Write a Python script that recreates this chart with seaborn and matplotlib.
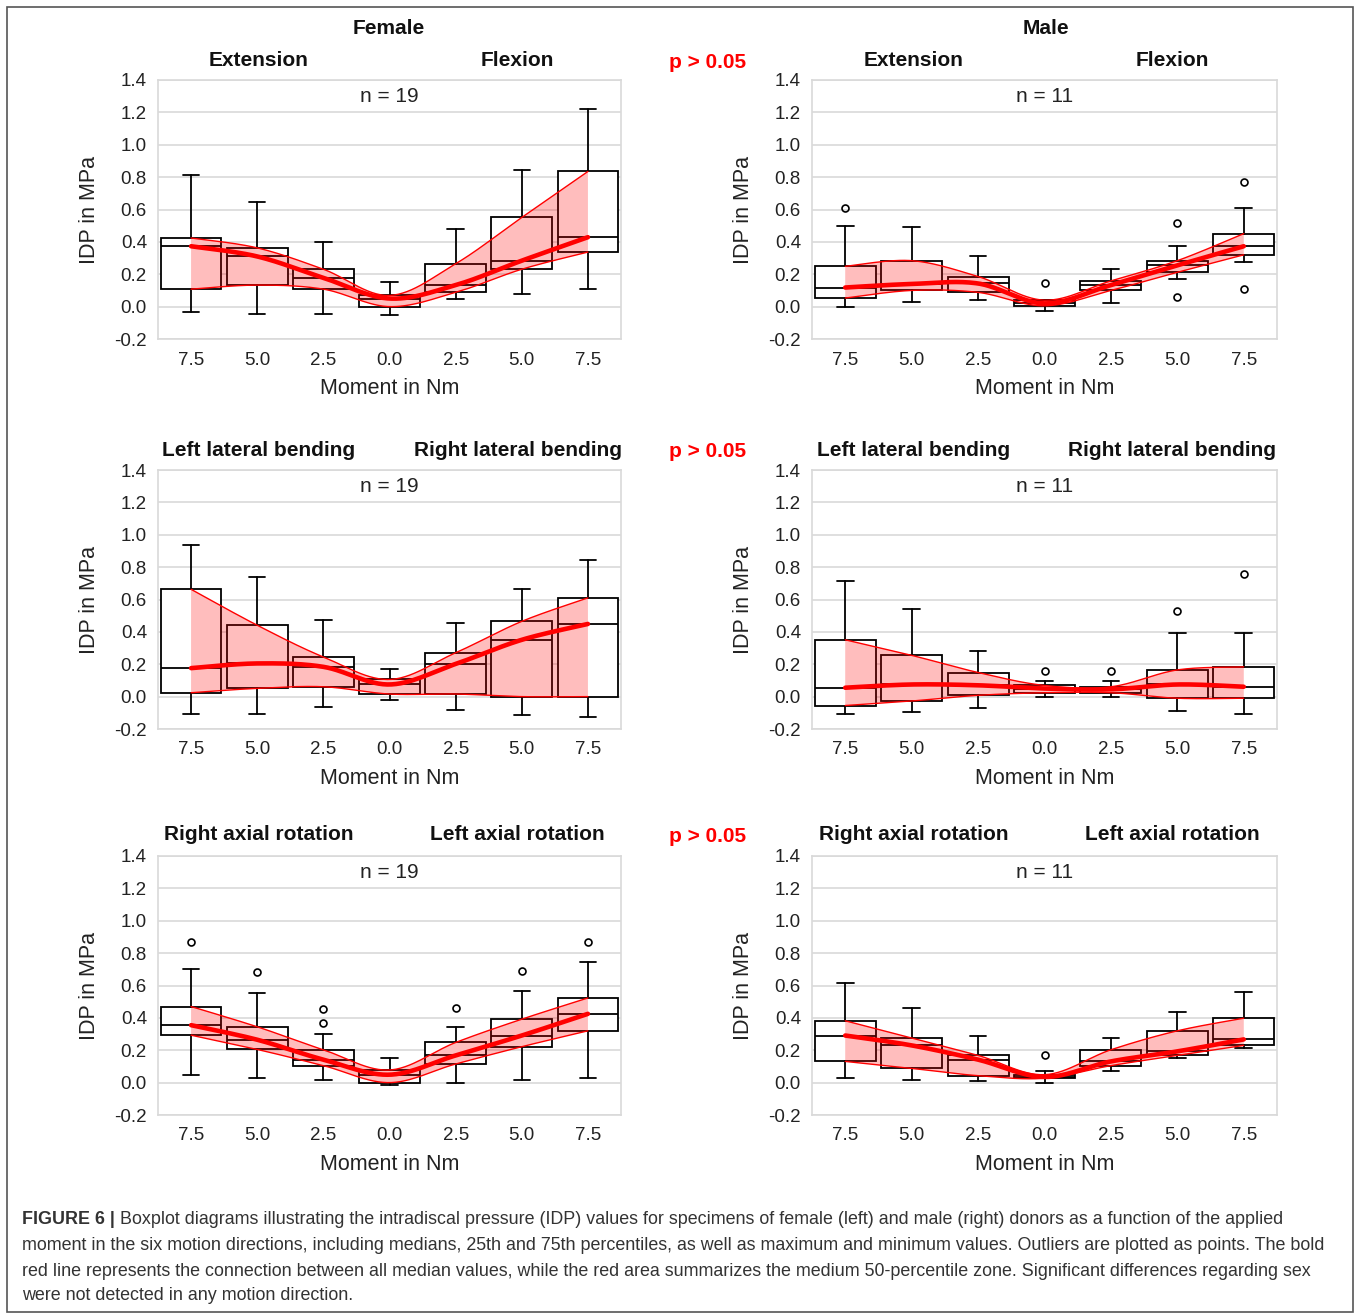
import numpy as np
import matplotlib
matplotlib.use("Agg")
import matplotlib.pyplot as plt
import seaborn as sns

# moment labels (extension side -> 0 -> flexion side)
moments = ["7.5", "5.0", "2.5", "0.0", "2.5", "5.0", "7.5"]

# Female, extension / flexion
f1_lo = [-0.035, -0.043, -0.043, -0.053, 0.045, 0.08, 0.108]
f1_q1 = [0.108, 0.133, 0.108, 0.0, 0.088, 0.231, 0.337]
f1_med = [0.373, 0.31, 0.178, 0.05, 0.133, 0.284, 0.429]
f1_q3 = [0.424, 0.363, 0.231, 0.069, 0.265, 0.551, 0.835]
f1_hi = [0.816, 0.647, 0.398, 0.151, 0.48, 0.843, 1.222]
f1_out = [[], [], [], [], [], [], []]

# Male, extension / flexion
m1_lo = [0.0, 0.027, 0.039, -0.024, 0.02, 0.169, 0.276]
m1_q1 = [0.053, 0.1, 0.088, 0.005, 0.1, 0.212, 0.32]
m1_med = [0.118, 0.14, 0.143, 0.02, 0.133, 0.255, 0.373]
m1_q3 = [0.249, 0.284, 0.186, 0.04, 0.159, 0.284, 0.451]
m1_hi = [0.498, 0.49, 0.31, 0.04, 0.231, 0.373, 0.612]
m1_out = [[0.612], [], [], [0.143], [], [0.514, 0.061], [0.769, 0.108]]

# Female, lateral bending
f2_lo = [-0.108, -0.108, -0.063, -0.02, -0.08, -0.116, -0.124]
f2_q1 = [0.024, 0.051, 0.061, 0.016, 0.016, 0.0, 0.0]
f2_med = [0.176, 0.205, 0.184, 0.075, 0.202, 0.351, 0.449]
f2_q3 = [0.663, 0.441, 0.245, 0.106, 0.271, 0.465, 0.61]
f2_hi = [0.935, 0.741, 0.473, 0.173, 0.457, 0.663, 0.847]
f2_out = [[], [], [], [], [], [], []]

# Male, lateral bending
m2_lo = [-0.108, -0.098, -0.071, 0.0, 0.0, -0.09, -0.108]
m2_q1 = [-0.055, -0.027, 0.008, 0.024, 0.024, -0.01, -0.01]
m2_med = [0.055, 0.075, 0.07, 0.05, 0.045, 0.075, 0.061]
m2_q3 = [0.351, 0.255, 0.149, 0.069, 0.061, 0.165, 0.184]
m2_hi = [0.714, 0.539, 0.28, 0.096, 0.096, 0.396, 0.396]
m2_out = [[], [], [], [0.159], [0.159], [0.529], [0.759]]

# Female, axial rotation
f3_lo = [0.047, 0.027, 0.016, -0.016, 0.0, 0.016, 0.027]
f3_q1 = [0.293, 0.205, 0.105, 0.0, 0.115, 0.222, 0.32]
f3_med = [0.355, 0.265, 0.142, 0.049, 0.168, 0.291, 0.425]
f3_q3 = [0.47, 0.345, 0.203, 0.078, 0.248, 0.392, 0.523]
f3_hi = [0.704, 0.552, 0.3, 0.152, 0.345, 0.568, 0.747]
f3_out = [[0.87], [0.683], [0.453, 0.371], [], [0.462], [0.691], [0.87]]

# Male, axial rotation
m3_lo = [0.027, 0.016, 0.008, 0.0, 0.07, 0.15, 0.213]
m3_q1 = [0.131, 0.088, 0.043, 0.027, 0.105, 0.168, 0.23]
m3_med = [0.291, 0.23, 0.142, 0.035, 0.131, 0.193, 0.267]
m3_q3 = [0.382, 0.275, 0.168, 0.049, 0.203, 0.32, 0.398]
m3_hi = [0.615, 0.462, 0.291, 0.07, 0.275, 0.435, 0.562]
m3_out = [[], [], [], [0.168], [], [], []]

row_titles = [("Extension", "Flexion"),
              ("Left lateral bending", "Right lateral bending"),
              ("Right axial rotation", "Left axial rotation")]

sns.set_theme(style="white")
plt.rcParams["font.family"] = ["Liberation Sans", "DejaVu Sans"]
plt.rcParams["axes.unicode_minus"] = False

W, H = 1360, 1315
fig = plt.figure(figsize=(W / 100, H / 100), dpi=100)


def fx(px):
    return px / W


def fy(py):
    return 1 - py / H


def smooth(xs, ys, k=30):
    # Catmull-Rom curve through the points, like a spreadsheet "smoothed line"
    pts = np.column_stack([xs, ys]).astype(float)
    p = np.vstack([pts[0], pts, pts[-1]])
    segs = []
    t = np.linspace(0, 1, k, endpoint=False)[:, None]
    for i in range(1, len(p) - 2):
        p0, p1, p2, p3 = p[i - 1], p[i], p[i + 1], p[i + 2]
        seg = 0.5 * (2 * p1 + (-p0 + p2) * t
                     + (2 * p0 - 5 * p1 + 4 * p2 - p3) * t ** 2
                     + (-p0 + 3 * p1 - 3 * p2 + p3) * t ** 3)
        segs.append(seg)
    segs.append(pts[-1][None])
    return np.vstack(segs)


def panel(ax, lo, q1, med, q3, hi, outl, n):
    pos = np.arange(len(moments))
    stats = []
    for i in range(len(moments)):
        stats.append(dict(whislo=lo[i], q1=q1[i], med=med[i], q3=q3[i],
                          whishi=hi[i], fliers=outl[i]))
    ax.bxp(stats, positions=pos, widths=0.92, patch_artist=True,
           manage_ticks=False, capwidths=0.25,
           boxprops=dict(facecolor="white", edgecolor="black", linewidth=1.3),
           medianprops=dict(color="black", linewidth=1.3),
           whiskerprops=dict(color="black", linewidth=1.3),
           capprops=dict(color="black", linewidth=1.3),
           flierprops=dict(marker="o", markerfacecolor="none",
                           markeredgecolor="black", markersize=5,
                           markeredgewidth=1.2),
           zorder=2)

    up = smooth(pos, q3)
    dn = smooth(pos, q1)
    poly = np.vstack([up, dn[::-1]])
    ax.fill(poly[:, 0], poly[:, 1], color="#ff0000", alpha=0.26,
            lw=0, zorder=3)
    ax.plot(up[:, 0], up[:, 1], color="#ff0000", lw=1.0, zorder=4)
    ax.plot(dn[:, 0], dn[:, 1], color="#ff0000", lw=1.0, zorder=4)
    md = smooth(pos, med)
    sns.lineplot(x=md[:, 0], y=md[:, 1], ax=ax, color="#ff0000", lw=3.3,
                 sort=False, estimator=None, zorder=5)

    ax.set_xlim(-0.5, len(moments) - 0.5)
    ax.set_ylim(-0.2, 1.4)
    yt = np.round(np.arange(-0.2, 1.41, 0.2), 1)
    ax.set_yticks(yt)
    ax.set_yticklabels([f"{v:.1f}" for v in yt])
    ax.set_xticks(pos)
    ax.set_xticklabels(moments)
    ax.tick_params(axis="both", length=0, labelsize=13.5, colors="#222222")
    ax.tick_params(axis="x", pad=9)
    ax.tick_params(axis="y", pad=8)
    ax.grid(axis="y", color="#d9d9d9", lw=1.2)
    ax.grid(axis="x", visible=False)
    ax.set_axisbelow(True)
    for s in ax.spines.values():
        s.set_color("#d9d9d9")
        s.set_linewidth(1.2)
    ax.set_xlabel("Moment in Nm", fontsize=15.5, color="#222222", labelpad=7)
    ax.set_ylabel("IDP in MPa", fontsize=15.5, color="#222222", labelpad=10)
    ax.text(0.5, 0.935, f"n = {n}", transform=ax.transAxes, ha="center",
            va="center", fontsize=15, color="#222222")


rows = [(80, 339), (470, 729), (856, 1115)]
lefts = [(158, 621), (812, 1277)]
data_f = [(f1_lo, f1_q1, f1_med, f1_q3, f1_hi, f1_out),
          (f2_lo, f2_q1, f2_med, f2_q3, f2_hi, f2_out),
          (f3_lo, f3_q1, f3_med, f3_q3, f3_hi, f3_out)]
data_m = [(m1_lo, m1_q1, m1_med, m1_q3, m1_hi, m1_out),
          (m2_lo, m2_q1, m2_med, m2_q3, m2_hi, m2_out),
          (m3_lo, m3_q1, m3_med, m3_q3, m3_hi, m3_out)]
head_y = [60, 450, 835]

for r, (top, bot) in enumerate(rows):
    for c, (l, rgt) in enumerate(lefts):
        ax = fig.add_axes([fx(l), fy(bot), (rgt - l) / W, (bot - top) / H])
        d = data_f[r] if c == 0 else data_m[r]
        panel(ax, *d, 19 if c == 0 else 11)
        mid = (l + rgt) / 2
        fig.text(fx(mid - 131), fy(head_y[r]), row_titles[r][0], ha="center",
                 va="center", fontsize=15, fontweight="bold", color="#111111")
        fig.text(fx(mid + 128), fy(head_y[r]), row_titles[r][1], ha="center",
                 va="center", fontsize=15, fontweight="bold", color="#111111")
    fig.text(fx(708), fy(head_y[r] + 2), "p > 0.05", ha="center", va="center",
             fontsize=15, fontweight="bold", color="#ff0000")

fig.text(fx(389), fy(29), "Female", ha="center", va="center", fontsize=15,
         fontweight="bold", color="#111111")
fig.text(fx(1046), fy(29), "Male", ha="center", va="center", fontsize=15,
         fontweight="bold", color="#111111")

# caption
cap_lines = [
    "Boxplot diagrams illustrating the intradiscal pressure (IDP) values for specimens of female (left) and male (right) donors as a function of the applied",
    "moment in the six motion directions, including medians, 25th and 75th percentiles, as well as maximum and minimum values. Outliers are plotted as points. The bold",
    "red line represents the connection between all median values, while the red area summarizes the medium 50-percentile zone. Significant differences regarding sex",
    "were not detected in any motion direction.",
]
cap_y = [1220, 1246, 1271, 1296]
cap_fs = 12.9
renderer = fig.canvas.get_renderer()
lab = fig.text(fx(22), fy(cap_y[0]), "FIGURE 6 | ", ha="left", va="center",
               fontsize=cap_fs, fontweight="bold", color="#333333")
bb = lab.get_window_extent(renderer=renderer)
fig.text(bb.x1 / W, fy(cap_y[0]), cap_lines[0], ha="left", va="center",
         fontsize=cap_fs, color="#333333")
for txt, yy in zip(cap_lines[1:], cap_y[1:]):
    fig.text(fx(22), fy(yy), txt, ha="left", va="center", fontsize=cap_fs,
             color="#333333")

# outer frame
frame = plt.Rectangle((fx(7), fy(1312)), fx(1353) - fx(7), fy(7) - fy(1312),
                      transform=fig.transFigure, fill=False,
                      edgecolor="#555555", lw=1.2)
fig.add_artist(frame)

fig.savefig("out.png", dpi=100)
